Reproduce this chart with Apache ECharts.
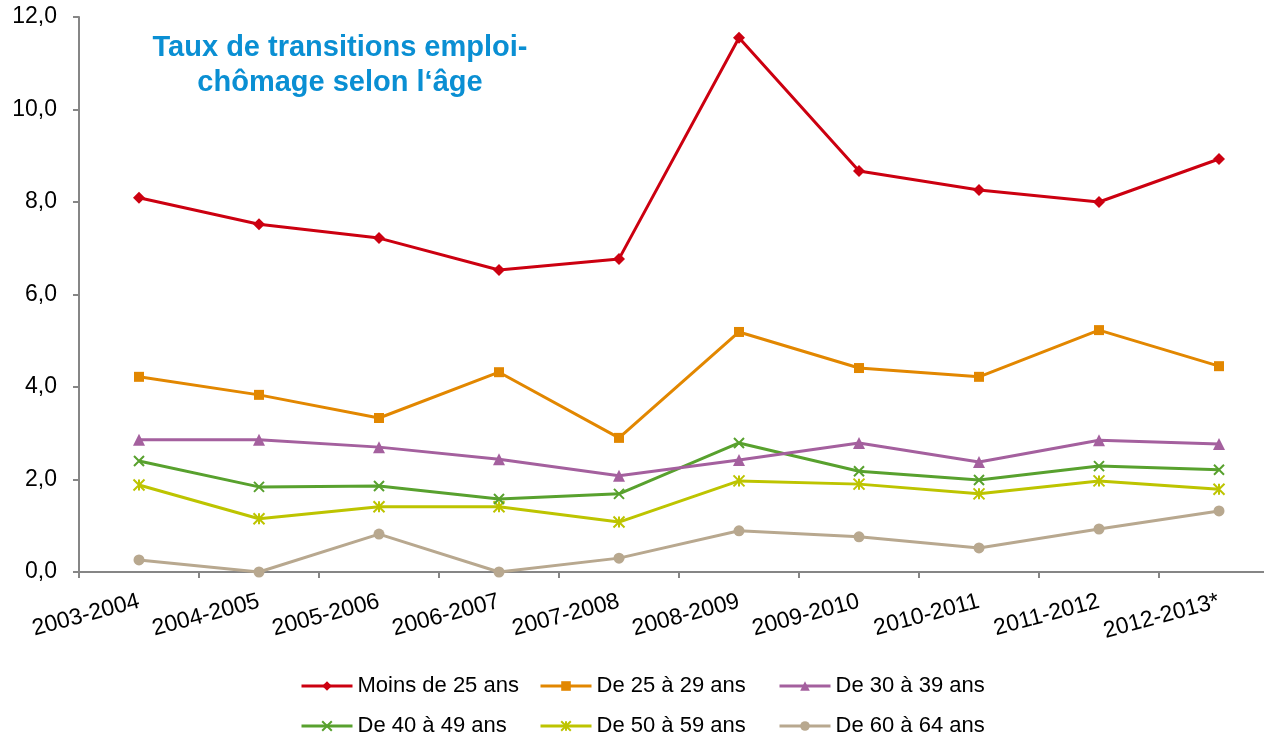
<!DOCTYPE html>
<html>
<head>
<meta charset="utf-8">
<script src="https://cdn.jsdelivr.net/npm/echarts@6/dist/echarts.min.js"></script>
<style>
html, body { margin: 0; padding: 0; background: #fff; }
#main { width: 1264px; height: 739px; }
</style>
</head>
<body>
<div id="main"></div>
<script>
var periods = ['2003-2004', '2004-2005', '2005-2006', '2006-2007', '2007-2008',
               '2008-2009', '2009-2010', '2010-2011', '2011-2012', '2012-2013*'];

var moins25 = [8.09, 7.52, 7.22, 6.53, 6.77, 11.55, 8.67, 8.26, 8.00, 8.93];
var de25a29 = [4.22, 3.83, 3.33, 4.32, 2.90, 5.19, 4.41, 4.22, 5.23, 4.45];
var de30a39 = [2.86, 2.86, 2.70, 2.44, 2.08, 2.42, 2.79, 2.38, 2.85, 2.77];
var de40a49 = [2.40, 1.84, 1.86, 1.58, 1.69, 2.79, 2.18, 1.99, 2.29, 2.21];
var de50a59 = [1.88, 1.15, 1.41, 1.41, 1.08, 1.97, 1.90, 1.69, 1.97, 1.79];
var de60a64 = [0.26, 0.00, 0.82, 0.00, 0.30, 0.89, 0.76, 0.52, 0.93, 1.32];

var yTicks = [0, 2, 4, 6, 8, 10, 12];

var legendNames = ['Moins de 25 ans', 'De 25 à 29 ans', 'De 30 à 39 ans',
                   'De 40 à 49 ans', 'De 50 à 59 ans', 'De 60 à 64 ans'];

var font = '"Liberation Sans", Arial, sans-serif';
var axisGray = '#868686';

var crossPath = 'path://M0,0L10,10M0,10L10,0';
var starPath = 'path://M0,0L10,10M0,10L10,0M5,0L5,10';

function mkSeries(name, data, color, symbol, size, stroke) {
    return {
        name: name,
        type: 'line',
        data: data,
        symbol: symbol,
        symbolSize: size,
        showAllSymbol: true,
        lineStyle: { color: color, width: 3 },
        itemStyle: {
            color: color,
            borderColor: color,
            borderWidth: stroke ? 2 : 0
        },
        emphasis: { disabled: true },
        animation: false
    };
}

// one legend per entry so the two rows line up in columns
var legends = legendNames.map(function (name, i) {
    return {
        left: 300 + (i % 3) * 239,
        top: 675 + Math.floor(i / 3) * 40,
        padding: 0,
        itemWidth: 51,
        itemHeight: 12,
        lineStyle: { width: 3 },
        textStyle: { fontFamily: font, fontSize: 22, color: '#000' },
        data: [name]
    };
});

var myChart = echarts.init(document.getElementById('main'));

myChart.setOption({
    backgroundColor: '#fff',
    textStyle: { fontFamily: font },
    graphic: [{
        type: 'text',
        x: 340,
        y: 30,
        style: {
            text: 'Taux de transitions emploi-\nchômage selon l‘âge',
            fontFamily: font,
            fontSize: 29,
            fontWeight: 'bold',
            fill: '#0A8FD3',
            align: 'center',
            lineHeight: 35
        }
    }],
    grid: { left: 79, top: 17, width: 1200, bottom: 167, containLabel: false, outerBoundsMode: 'none' },
    legend: legends,
    xAxis: {
        type: 'category',
        data: periods,
        boundaryGap: true,
        axisLine: { lineStyle: { color: axisGray, width: 2 } },
        axisTick: { show: true, length: 6, lineStyle: { color: axisGray, width: 2 } },
        axisLabel: {
            rotate: 15,
            margin: 29,
            interval: 0,
            fontSize: 23,
            color: '#000',
            fontFamily: font
        },
        splitLine: { show: false }
    },
    yAxis: {
        type: 'value',
        min: yTicks[0],
        max: yTicks[yTicks.length - 1],
        interval: 2,
        axisLine: { show: true, lineStyle: { color: axisGray, width: 2 } },
        axisTick: { show: true, length: 6, lineStyle: { color: axisGray, width: 2 } },
        axisLabel: {
            margin: 22,
            fontSize: 23,
            color: '#000',
            fontFamily: font,
            formatter: function (v) { return v.toFixed(1).replace('.', ','); }
        },
        splitLine: { show: false }
    },
    series: [
        mkSeries('De 60 à 64 ans', de60a64, '#B8A88F', 'circle', 11, false),
        mkSeries('De 50 à 59 ans', de50a59, '#BDC400', starPath, 11, true),
        mkSeries('De 40 à 49 ans', de40a49, '#58A12E', crossPath, 10, true),
        mkSeries('De 30 à 39 ans', de30a39, '#A4609E', 'triangle', 12, false),
        mkSeries('De 25 à 29 ans', de25a29, '#E28700', 'rect', 10, false),
        mkSeries('Moins de 25 ans', moins25, '#CC0010', 'diamond', 12, false)
    ]
});
</script>
</body>
</html>
